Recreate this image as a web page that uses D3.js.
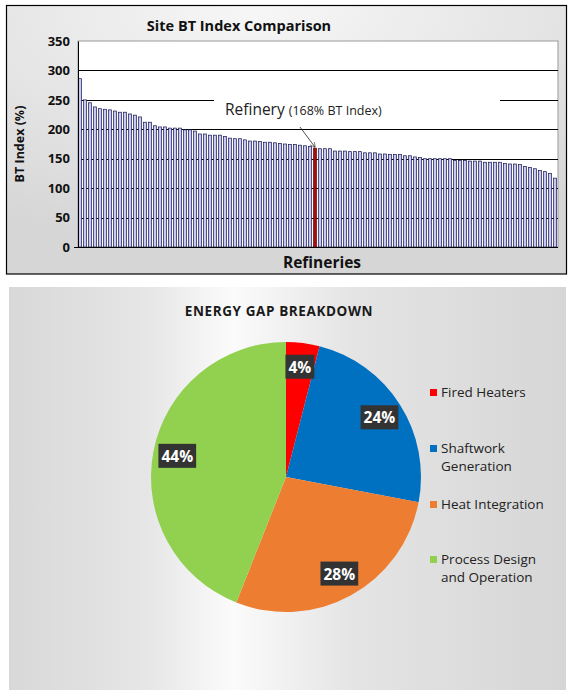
<!DOCTYPE html>
<html>
<head>
<meta charset="utf-8">
<script src="https://cdn.jsdelivr.net/npm/d3@7"></script>
<style>
  body { margin: 0; background: #fff; }
  text { font-family: "Open Sans", "Noto Sans", sans-serif; }
</style>
</head>
<body>
<svg id="chart" width="571" height="700"></svg>
<script>
// site BT index, one bar per refinery, sorted high to low
var refineries = d3.range(1, 97).map(function (i) { return "R" + i; });
var btIndex = [286, 250, 245, 238, 235, 234, 233, 231, 229, 229, 226, 224, 221, 212, 212,
  206, 204, 204, 202, 202, 202, 199, 199, 197, 192, 192, 190, 190, 190, 188, 185, 184, 184,
  182, 180, 180, 179, 178, 178, 177, 176, 175, 174, 174, 173, 172, 171, 168, 167, 167, 167,
  163, 163, 163, 162, 162, 162, 160, 160, 160, 158, 158, 157, 157, 157, 155, 155, 153, 152,
  150, 150, 150, 150, 150, 150, 147, 147, 147, 146, 146, 146, 144, 144, 144, 144, 142, 141,
  141, 140, 137, 135, 133, 130, 128, 125, 117];
var highlight = "R48";
var yTicks = [0, 50, 100, 150, 200, 250, 300, 350];

// energy gap pie
var gapNames = ["Fired Heaters", "Shaftwork Generation", "Heat Integration", "Process Design and Operation"];
var gapLegendLines = [["Fired Heaters"], ["Shaftwork", "Generation"], ["Heat Integration"], ["Process Design", "and Operation"]];
var gapValues = [4, 24, 28, 44];
var gapColors = ["#ff0000", "#0070c0", "#ed7d31", "#92d050"];

var svg = d3.select("#chart");
var defs = svg.append("defs");

// ---------- top panel ----------
var g1 = defs.append("radialGradient").attr("id", "topBg")
  .attr("cx", "45%").attr("cy", "0%").attr("r", "90%");
g1.append("stop").attr("offset", "0%").attr("stop-color", "#f7f7f7");
g1.append("stop").attr("offset", "100%").attr("stop-color", "#d6d6d6");

svg.append("rect")
  .attr("x", 6.5).attr("y", 5.5).attr("width", 560).attr("height", 268.5)
  .attr("fill", "url(#topBg)").attr("stroke", "#000").attr("stroke-width", 1.2);

var plotL = 78, plotR = 558, plotT = 41, plotB = 247;

var y = d3.scaleLinear().domain([0, 350]).range([plotB, plotT]);
var x = d3.scaleBand().domain(refineries).range([plotL, plotR - 1]).paddingInner(0.4).paddingOuter(0.1);

svg.append("rect")
  .attr("x", plotL).attr("y", plotT).attr("width", plotR - plotL).attr("height", plotB - plotT)
  .attr("fill", "#fff").attr("stroke", "#9a9a9a");

// grid lines
svg.append("g").selectAll("line")
  .data(yTicks.filter(function (t) { return t > 0 && t < 350; }))
  .enter().append("line")
  .attr("x1", plotL).attr("x2", plotR)
  .attr("y1", function (d) { return Math.round(y(d)) + 0.5; })
  .attr("y2", function (d) { return Math.round(y(d)) + 0.5; })
  .attr("stroke", "#000").attr("stroke-width", 1);

// white box for the annotation hides part of the 250 line
svg.append("rect")
  .attr("x", 214).attr("y", 92).attr("width", 286).attr("height", 30)
  .attr("fill", "#fff");

// bars
svg.append("g").selectAll("rect")
  .data(btIndex)
  .enter().append("rect")
  .attr("x", function (d, i) { return x(refineries[i]); })
  .attr("width", x.bandwidth())
  .attr("y", function (d) { return y(d); })
  .attr("height", function (d) { return plotB - y(d); })
  .attr("fill", function (d, i) { return refineries[i] === highlight ? "#a01010" : "#c8c8f2"; })
  .attr("stroke", function (d, i) { return refineries[i] === highlight ? "#700000" : "#14144e"; })
  .attr("stroke-width", 0.7);

// axes
var yAxis = svg.append("g")
  .attr("transform", "translate(" + plotL + ",0)")
  .call(d3.axisLeft(y).tickValues(yTicks).tickSize(0).tickPadding(8));
yAxis.select(".domain").attr("stroke", "#000");
yAxis.selectAll("text")
  .attr("font-size", 13).attr("font-weight", "bold").attr("fill", "#111");

svg.append("line")
  .attr("x1", plotL - 4).attr("x2", plotR)
  .attr("y1", plotB + 0.5).attr("y2", plotB + 0.5)
  .attr("stroke", "#000").attr("stroke-width", 1.2);

svg.append("text")
  .attr("x", 239).attr("y", 31).attr("text-anchor", "middle")
  .attr("font-size", 14.5).attr("font-weight", "bold").attr("fill", "#111")
  .text("Site BT Index Comparison");

svg.append("text")
  .attr("transform", "translate(24," + 144 + ") rotate(-90)")
  .attr("text-anchor", "middle")
  .attr("font-size", 12.5).attr("font-weight", "bold").attr("fill", "#111")
  .text("BT Index (%)");

svg.append("text")
  .attr("x", 322).attr("y", 268).attr("text-anchor", "middle")
  .attr("font-size", 15.5).attr("font-weight", "bold").attr("fill", "#111")
  .text("Refineries");

// annotation for the highlighted site
var hiIdx = refineries.indexOf(highlight);
var ann = svg.append("text").attr("x", 225).attr("y", 115).attr("fill", "#222");
ann.append("tspan").attr("font-size", 15.5).text("Refinery ");
ann.append("tspan").attr("font-size", 12.5).text("(" + btIndex[hiIdx] + "% BT Index)");

defs.append("marker").attr("id", "arrow")
  .attr("viewBox", "0 0 10 10").attr("refX", 9).attr("refY", 5)
  .attr("markerWidth", 7).attr("markerHeight", 7).attr("orient", "auto")
  .append("path").attr("d", "M0,0 L10,5 L0,10").attr("fill", "none").attr("stroke", "#222");

var hx = x(highlight) + x.bandwidth() / 2;
svg.append("line")
  .attr("x1", hx - 15).attr("y1", 127)
  .attr("x2", hx).attr("y2", y(btIndex[hiIdx]) - 1)
  .attr("stroke", "#222").attr("stroke-width", 0.8)
  .attr("marker-end", "url(#arrow)");

// ---------- bottom panel ----------
var g2 = defs.append("linearGradient").attr("id", "botBg")
  .attr("x1", "0%").attr("x2", "100%").attr("y1", "0%").attr("y2", "0%");
g2.append("stop").attr("offset", "0%").attr("stop-color", "#d8d8d8");
g2.append("stop").attr("offset", "25%").attr("stop-color", "#e6e6e6");
g2.append("stop").attr("offset", "40%").attr("stop-color", "#fbfbfb");
g2.append("stop").attr("offset", "62%").attr("stop-color", "#e4e4e4");
g2.append("stop").attr("offset", "100%").attr("stop-color", "#d6d6d6");

svg.append("rect")
  .attr("x", 9).attr("y", 287).attr("width", 557).attr("height", 403)
  .attr("fill", "url(#botBg)");

svg.append("text")
  .attr("x", 279).attr("y", 316).attr("text-anchor", "middle")
  .attr("font-size", 13.5).attr("font-weight", "bold").attr("fill", "#1a1a1a")
  .attr("letter-spacing", 0.6)
  .text("ENERGY GAP BREAKDOWN");

var cx = 286, cy = 477, radius = 135;
var pie = d3.pie().sort(null).value(function (d) { return d; });
var arcs = pie(gapValues);
var arc = d3.arc().innerRadius(0).outerRadius(radius);
var labelArc = d3.arc().innerRadius(radius * 0.82).outerRadius(radius * 0.82);

var pieG = svg.append("g").attr("transform", "translate(" + cx + "," + cy + ")");
pieG.selectAll("path")
  .data(arcs)
  .enter().append("path")
  .attr("d", arc)
  .attr("fill", function (d, i) { return gapColors[i]; });

var labels = pieG.selectAll("g.lbl")
  .data(arcs)
  .enter().append("g").attr("class", "lbl")
  .attr("transform", function (d) { return "translate(" + labelArc.centroid(d) + ")"; });
labels.append("rect").attr("fill", "#333");
labels.append("text")
  .attr("text-anchor", "middle").attr("dy", "0.36em")
  .attr("font-size", 15.5).attr("font-weight", "bold").attr("fill", "#fff")
  .text(function (d) { return d.data + "%"; });
labels.each(function () {
  var b = d3.select(this).select("text").node().getBBox();
  d3.select(this).select("rect")
    .attr("x", b.x - 3).attr("y", b.y - 1)
    .attr("width", b.width + 6).attr("height", b.height + 2);
});

// legend
var legendY = [397, 453, 509, 564];
var legend = svg.append("g").selectAll("g")
  .data(gapNames)
  .enter().append("g")
  .attr("transform", function (d, i) { return "translate(430," + legendY[i] + ")"; });
legend.append("rect")
  .attr("x", 0).attr("y", -8).attr("width", 7).attr("height", 7)
  .attr("fill", function (d, i) { return gapColors[i]; });
legend.selectAll("text")
  .data(function (d, i) { return gapLegendLines[i]; })
  .enter().append("text")
  .attr("x", 11).attr("y", function (d, j) { return j * 17.5; })
  .attr("font-size", 13.5).attr("fill", "#222")
  .text(function (d) { return d; });
</script>
</body>
</html>
